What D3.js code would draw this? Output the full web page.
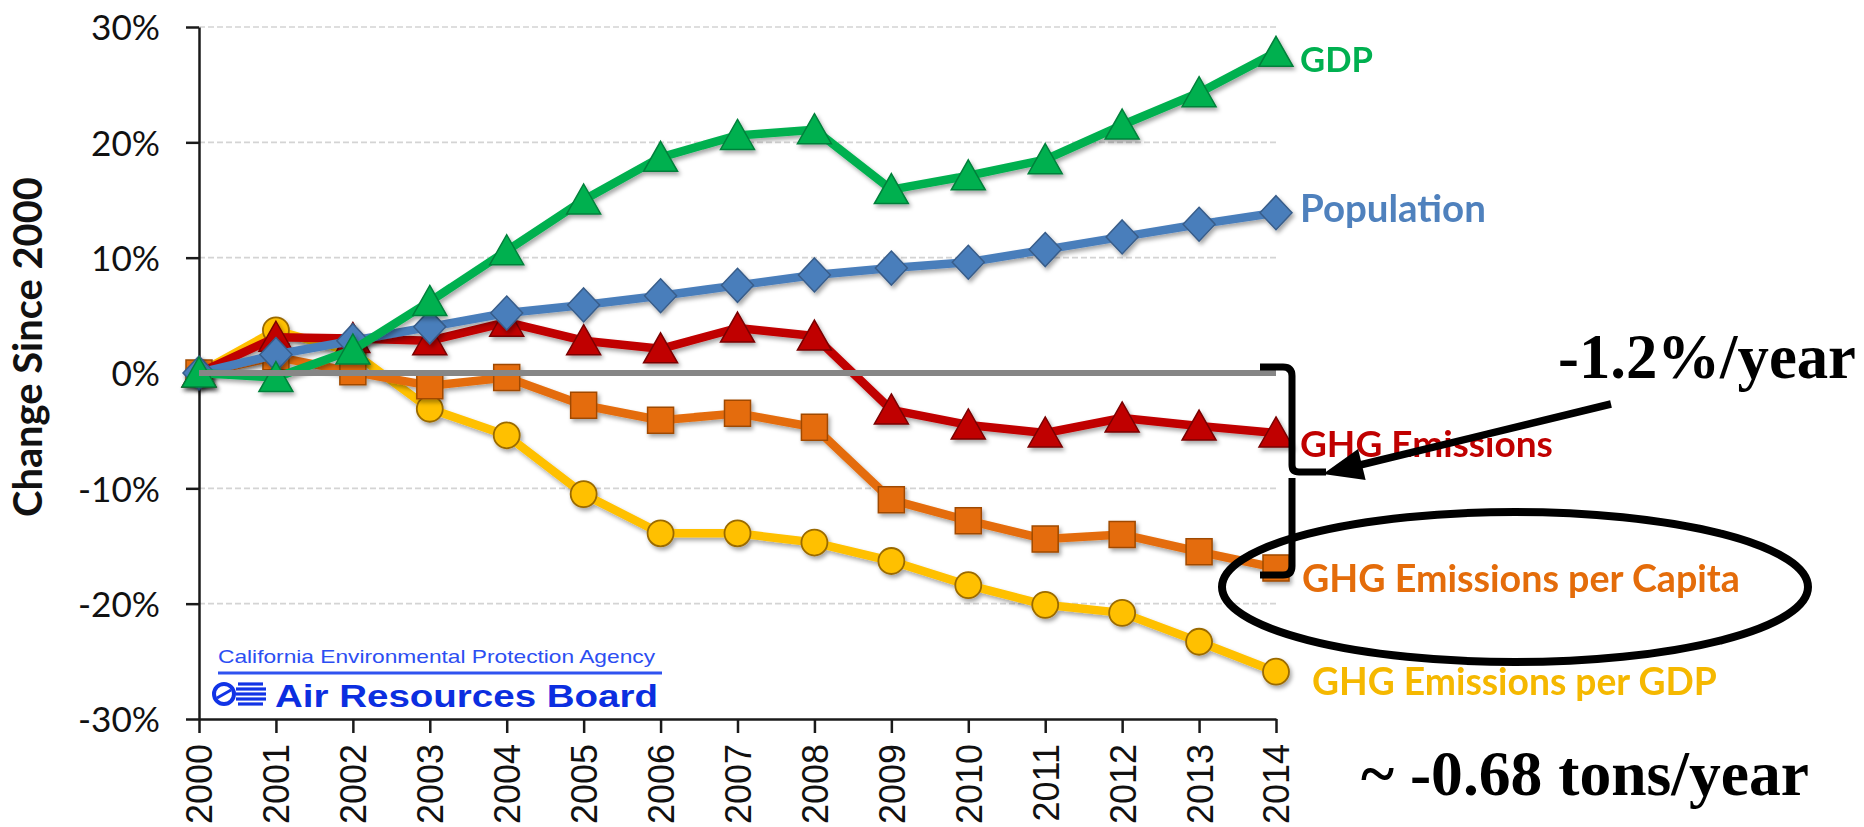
<!DOCTYPE html>
<html>
<head>
<meta charset="utf-8">
<script src="https://cdn.jsdelivr.net/npm/d3@7"></script>
<style>
  html, body { margin: 0; padding: 0; background: #fff; }
  svg { display: block; }
</style>
</head>
<body>
<svg id="chart" width="1864" height="827"></svg>
<script>
// ---------------- DATA ----------------
const years = ["2000","2001","2002","2003","2004","2005","2006","2007","2008","2009","2010","2011","2012","2013","2014"];
const gdp          = [0, -0.4, 2.0, 6.2, 10.6, 15.0, 18.7, 20.6, 21.1, 15.9, 17.1, 18.5, 21.5, 24.3, 27.8];
const population   = [0, 1.6, 2.8, 4.0, 5.2, 5.9, 6.7, 7.6, 8.5, 9.1, 9.6, 10.7, 11.8, 12.9, 13.9];
const ghg          = [0, 3.1, 3.0, 2.8, 4.4, 2.8, 2.1, 3.9, 3.2, -3.2, -4.5, -5.2, -3.9, -4.6, -5.2];
const ghgPerCapita = [0, 1.4, 0.1, -1.1, -0.4, -2.8, -4.1, -3.5, -4.7, -11.0, -12.8, -14.4, -14.0, -15.5, -16.9];
const ghgPerGdp    = [0, 3.7, 1.8, -3.1, -5.4, -10.5, -13.9, -13.9, -14.7, -16.3, -18.4, -20.1, -20.8, -23.3, -25.9];
const yTicks = [-30, -20, -10, 0, 10, 20, 30];
const gridValues = [-20, -10, 10, 20, 30];
const yTitle = "Change Since 2000";
const seriesNames = ["GHG Emissions per GDP", "GHG Emissions per Capita", "GHG Emissions", "Population", "GDP"];
const annotRate = "-1.2%/year";
const annotTons = "~ -0.68 tons/year";
const logoTop = "California Environmental Protection Agency";
const logoBottom = "Air Resources Board";

// ---------------- SETUP ----------------
const svg = d3.select("#chart");
const x = d3.scalePoint().domain(years).range([199, 1276]);
const y = d3.scaleLinear().domain([-30, 30]).range([719, 27]);

const defs = svg.append("defs");
const f = defs.append("filter").attr("id", "shadow").attr("x", "-20%").attr("y", "-20%").attr("width", "140%").attr("height", "140%");
f.append("feDropShadow").attr("dx", 2).attr("dy", 3).attr("stdDeviation", 2).attr("flood-color", "#000").attr("flood-opacity", 0.35);

function fit(sel, w) {
  const l = sel.node().getComputedTextLength();
  const fs = parseFloat(sel.attr("font-size"));
  sel.attr("font-size", (fs * w / l).toFixed(2));
  return sel;
}

// gridlines
svg.append("g").selectAll("line").data(gridValues).join("line")
  .attr("x1", x(years[0])).attr("x2", x(years[years.length - 1]))
  .attr("y1", d => y(d)).attr("y2", d => y(d))
  .attr("stroke", "#d4d4d4").attr("stroke-width", 1.6).attr("stroke-dasharray", "6,3");

// ---------------- LOGO ----------------
const logo = svg.append("g");
logo.append("text").attr("x", 218).attr("y", 663).text(logoTop)
  .attr("font-family", "Liberation Sans, Arial, sans-serif").attr("font-size", 19)
  .attr("fill", "#2c4ef2").attr("textLength", 437).attr("lengthAdjust", "spacingAndGlyphs");
logo.append("line").attr("x1", 218).attr("x2", 662).attr("y1", 673).attr("y2", 673)
  .attr("stroke", "#2f52f0").attr("stroke-width", 3);
logo.append("circle").attr("cx", 224).attr("cy", 694).attr("r", 10)
  .attr("fill", "none").attr("stroke", "#1133e6").attr("stroke-width", 4);
logo.append("line").attr("x1", 217).attr("y1", 698).attr("x2", 231).attr("y2", 690)
  .attr("stroke", "#1133e6").attr("stroke-width", 3);
[684, 689, 694, 699, 704].forEach((yy, i) => {
  logo.append("line").attr("x1", 236 - (i === 0 || i === 4 ? -2 : 0)).attr("x2", 266 - (i === 0 || i === 4 ? 3 : 0))
    .attr("y1", yy).attr("y2", yy).attr("stroke", "#1133e6").attr("stroke-width", 3.2);
});
logo.append("text").attr("x", 275).attr("y", 707).text(logoBottom)
  .attr("font-family", "Liberation Sans, Arial, sans-serif").attr("font-weight", "bold").attr("font-size", 31)
  .attr("fill", "#0b2ee0").attr("textLength", 383).attr("lengthAdjust", "spacingAndGlyphs");

// ---------------- AXES ----------------
const yAxis = svg.append("g").attr("transform", `translate(${x(years[0])},0)`)
  .call(d3.axisLeft(y).tickValues(yTicks).tickFormat(d => d + "%").tickSize(13).tickSizeOuter(0).tickPadding(26));
yAxis.select(".domain").attr("stroke", "#1a1a1a").attr("stroke-width", 2.5);
yAxis.selectAll(".tick line").attr("stroke", "#1a1a1a").attr("stroke-width", 2.5);
yAxis.selectAll(".tick text").attr("font-family", "Lato, Carlito, sans-serif").attr("font-size", 35)
  .attr("fill", "#111").attr("dy", "0.36em");
{
  const t = yAxis.selectAll(".tick text").filter(d => d === 30);
  const l = t.node().getComputedTextLength();
  yAxis.selectAll(".tick text").attr("font-size", (35 * 69 / l).toFixed(2));
}

const xAxis = svg.append("g").attr("transform", `translate(0,${y(-30)})`)
  .call(d3.axisBottom(x).tickSize(14).tickSizeOuter(0));
xAxis.select(".domain").attr("stroke", "#1a1a1a").attr("stroke-width", 2.5);
xAxis.selectAll(".tick line").attr("stroke", "#1a1a1a").attr("stroke-width", 2.5);
xAxis.selectAll(".tick text")
  .attr("transform", "rotate(-90)")
  .attr("x", -25).attr("y", 0).attr("dy", "0.36em")
  .attr("text-anchor", "end")
  .attr("font-family", "Liberation Sans, Arial, sans-serif").attr("font-size", 36).attr("fill", "#111");

// y title
const yt = svg.append("text").text(yTitle)
  .attr("transform", "translate(42,347) rotate(-90)")
  .attr("text-anchor", "middle")
  .attr("font-family", "Lato, Carlito, sans-serif").attr("font-weight", "bold").attr("font-size", 30).attr("fill", "#111");
fit(yt, 340);

// ---------------- SERIES ----------------
const triangle = "M0,-16L17,14L-17,14Z";
const diamond = "M0,-17L16,0L0,17L-16,0Z";
const square = "M-13,-13H13V13H-13Z";

const series = [
  { name: seriesNames[0], values: ghgPerGdp, line: "#FFC000", fill: "#FFC000", stroke: "#9a6a00", shape: "circle" },
  { name: seriesNames[1], values: ghgPerCapita, line: "#E46C0A", fill: "#E46C0A", stroke: "#a04a05", shape: square },
  { name: seriesNames[2], values: ghg, line: "#C00000", fill: "#C00000", stroke: "#7a0000", shape: triangle },
  { name: seriesNames[3], values: population, line: "#4A7EBB", fill: "#4A7EBB", stroke: "#385d8a", shape: diamond },
  { name: seriesNames[4], values: gdp, line: "#00B050", fill: "#00B050", stroke: "#00803a", shape: triangle }
];

const lineGen = d3.line().x((d, i) => x(years[i])).y(d => y(d));

series.forEach(s => {
  const g = svg.append("g").attr("filter", "url(#shadow)");
  g.append("path").attr("d", lineGen(s.values)).attr("fill", "none")
    .attr("stroke", s.line).attr("stroke-width", 8.5).attr("stroke-linejoin", "round");
  if (s.shape === "circle") {
    g.selectAll("circle").data(s.values).join("circle")
      .attr("cx", (d, i) => x(years[i])).attr("cy", d => y(d)).attr("r", 13)
      .attr("fill", s.fill).attr("stroke", s.stroke).attr("stroke-width", 1.8);
  } else {
    g.selectAll("path.m").data(s.values).join("path").attr("class", "m")
      .attr("transform", (d, i) => `translate(${x(years[i])},${y(d)})`)
      .attr("d", s.shape)
      .attr("fill", s.fill).attr("stroke", s.stroke).attr("stroke-width", 1.5);
  }
});

// zero line
svg.append("line").attr("x1", x(years[0])).attr("x2", x(years[years.length - 1]))
  .attr("y1", y(0)).attr("y2", y(0)).attr("stroke", "#868686").attr("stroke-width", 6);

// ---------------- SERIES LABELS ----------------
const labelSpecs = [
  { text: seriesNames[4], color: "#00B050", x: 1300, y: 72, w: 73 },
  { text: seriesNames[3], color: "#4F81BD", x: 1300, y: 222, w: 186 },
  { text: seriesNames[2], color: "#C00000", x: 1300, y: 457, w: 253 },
  { text: seriesNames[1], color: "#E46C0A", x: 1302, y: 592, w: 438 },
  { text: seriesNames[0], color: "#F5B800", x: 1312, y: 695, w: 405 }
];
labelSpecs.forEach(l => {
  const t = svg.append("text").text(l.text).attr("x", l.x).attr("y", l.y)
    .attr("font-family", "Lato, Carlito, sans-serif").attr("font-weight", "bold")
    .attr("font-size", 32).attr("fill", l.color);
  fit(t, l.w);
});

// ---------------- ANNOTATIONS ----------------
const ann = svg.append("g").attr("fill", "none").attr("stroke", "#000");
ann.append("path").attr("d", "M1260,367 H1283 Q1292,367 1292,376 V465 Q1292,472 1299,472 H1326")
  .attr("stroke-width", 7);
ann.append("path").attr("d", "M1292,478 V566 Q1292,575 1283,575 H1260")
  .attr("stroke-width", 7);

// arrow
{
  const sx = 1611, sy = 404, tx = 1323, ty = 474;
  const dx = tx - sx, dy = ty - sy, len = Math.hypot(dx, dy);
  const ux = dx / len, uy = dy / len;
  const hl = 40, hw = 16;
  const bx = tx - ux * hl, by = ty - uy * hl;
  ann.append("line").attr("x1", sx).attr("y1", sy).attr("x2", bx + ux * 4).attr("y2", by + uy * 4)
    .attr("stroke-width", 7.5);
  svg.append("path")
    .attr("d", `M${tx},${ty}L${bx - uy * hw},${by + ux * hw}L${bx + uy * hw},${by - ux * hw}Z`)
    .attr("fill", "#000");
}

ann.append("ellipse").attr("cx", 1515).attr("cy", 587).attr("rx", 293).attr("ry", 75)
  .attr("stroke-width", 8);

const a1 = svg.append("text").text(annotRate).attr("x", 1558).attr("y", 378)
  .attr("font-family", "Liberation Serif, Times New Roman, serif").attr("font-weight", "bold")
  .attr("font-size", 62).attr("fill", "#000");
fit(a1, 298);
const a2 = svg.append("text").text(annotTons).attr("x", 1361).attr("y", 795)
  .attr("font-family", "Liberation Serif, Times New Roman, serif").attr("font-weight", "bold")
  .attr("font-size", 62).attr("fill", "#000");
fit(a2, 448);
</script>
</body>
</html>
